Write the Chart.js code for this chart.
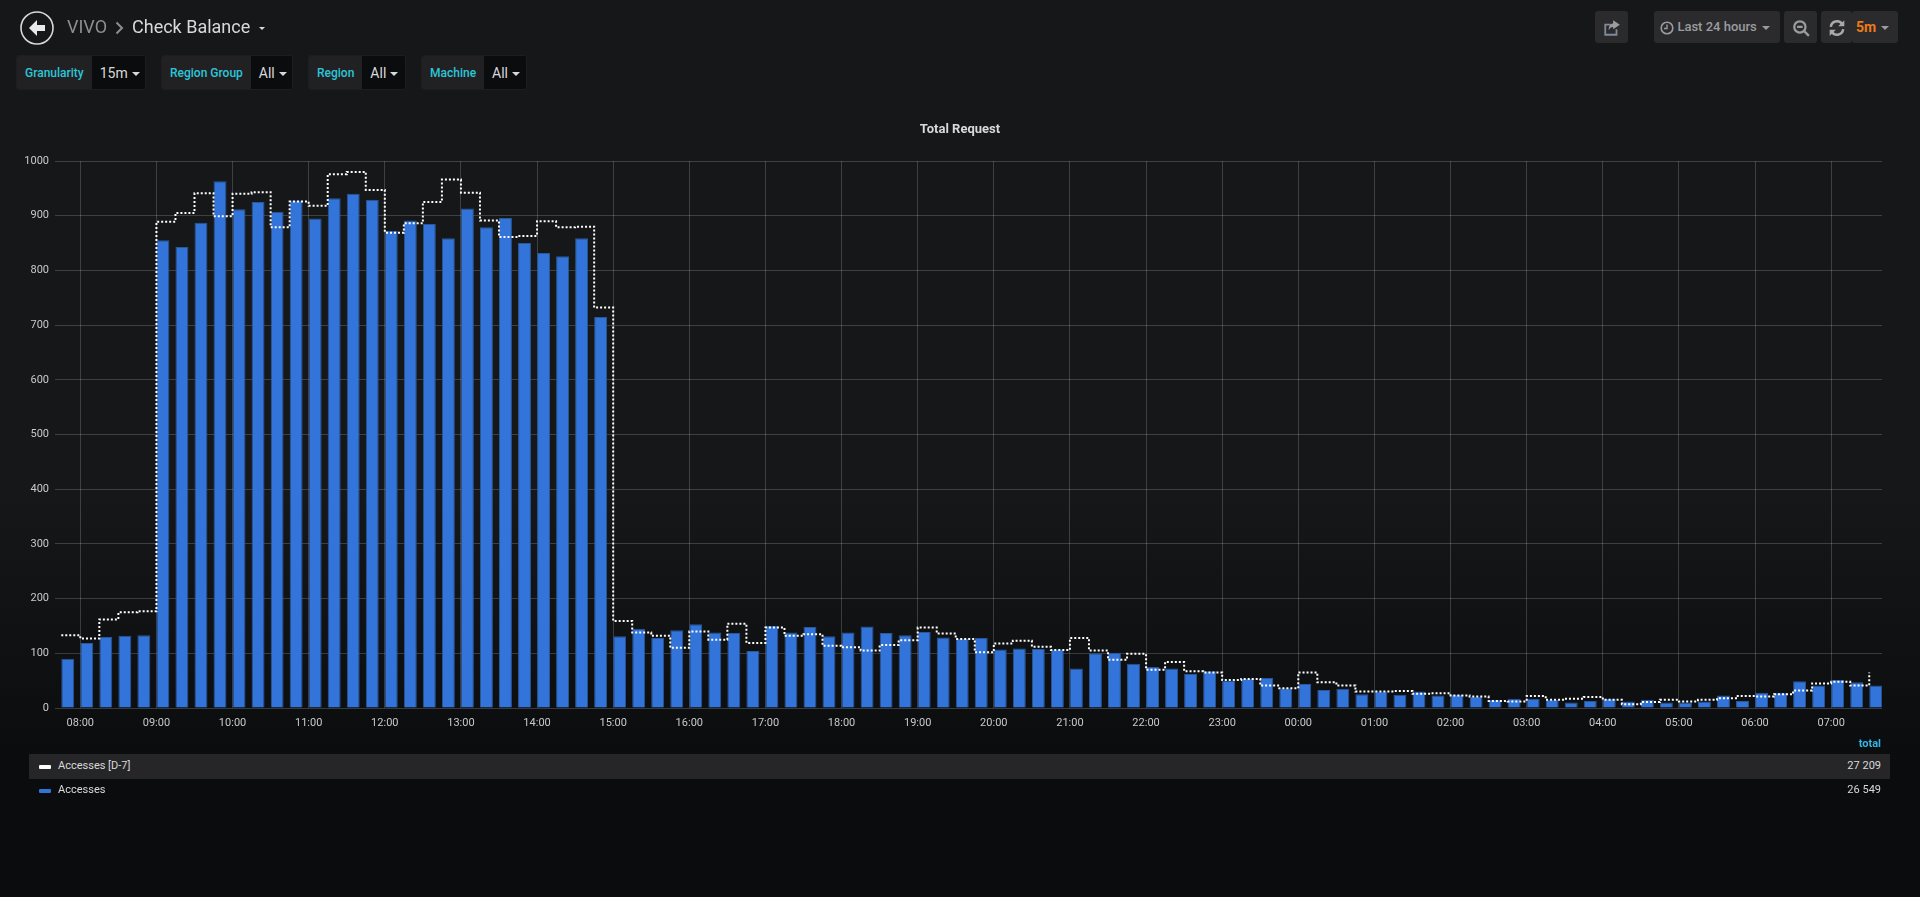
<!DOCTYPE html>
<html>
<head>
<meta charset="utf-8">
<title>Check Balance</title>
<script src="https://cdn.jsdelivr.net/npm/chart.js@4"></script>
<style>
  * { box-sizing: border-box; }
  html, body { margin: 0; width: 1920px; height: 897px; overflow: hidden; }
  body { background: linear-gradient(#161719, #161719 55%, #0b0c0e 85%); font-family: Roboto, sans-serif; color: #d8d9da; position: relative; }
  #chart { position: absolute; left: 0; top: 0; }
  .abs { position: absolute; white-space: nowrap; }
  .crumb { font-size: 18px; top: 16px; line-height: 22px; }
  .caret { display: inline-block; border: 4px solid transparent; border-top-color: currentColor; border-bottom: 0; vertical-align: middle; margin-left: 5px; }
  .var { top: 55px; height: 35px; display: flex; font-size: 12px; border-radius: 3px; overflow: hidden; border: 1px solid #1d1e20; }
  .var b { background: #212124; color: #2cc6d8; font-weight: 500; padding: 0 8px; line-height: 34px; }
  .var span { background: #0b0c0e; font-size: 14px; padding: 0 8px; line-height: 35px; flex: 1; }
  .var .caret { margin-left: 4px; padding: 0; background: none; flex: none; }
  .btn { top: 11px; height: 32px; background: #2b2b2e; border-radius: 3px; color: #9b9c9e; font-size: 13px; font-weight: 500; line-height: 32px; text-align: center; }
  .btn svg { vertical-align: middle; }
  .row { left: 29px; width: 1861px; height: 25px; line-height: 24px; font-size: 11px; color: #d8d9da; }
  .row i { position: absolute; left: 10px; top: 11px; width: 12px; height: 4px; border-radius: 1px; }
  .row em { position: absolute; left: 29px; font-style: normal; }
  .row u { position: absolute; right: 9px; text-decoration: none; }
</style>
</head>
<body>
<canvas id="chart" width="1920" height="897"></canvas>

<svg class="abs" style="left:19px;top:10px" width="36" height="36" viewBox="0 0 36 36">
  <circle cx="18" cy="18" r="16" fill="none" stroke="#d8d9da" stroke-width="1.6"/>
  <path d="M10 18 L18 10 L18 15 L26 15 L26 21 L18 21 L18 26 Z" fill="#e9e9e9"/>
</svg>
<div class="abs crumb" style="left:67px;color:#8e8e8e">VIVO</div>
<svg class="abs" style="left:115px;top:21px" width="9" height="14" viewBox="0 0 9 14"><path d="M1.5 1.5 L7 7 L1.5 12.5" fill="none" stroke="#8e8e8e" stroke-width="2"/></svg>
<div class="abs crumb" style="left:132px">Check Balance<span class="caret" style="margin-left:9px;border-width:3px;border-bottom:0"></span></div>
<div class="abs" style="left:0;width:1920px;top:122px;text-align:center;font-size:13px;font-weight:700;line-height:14px">Total Request</div>

<div class="abs var" style="left:16px;width:130px"><b>Granularity</b><span>15m<span class="caret"></span></span></div>
<div class="abs var" style="left:161px;width:132px"><b>Region Group</b><span>All<span class="caret"></span></span></div>
<div class="abs var" style="left:308px;width:98px"><b>Region</b><span>All<span class="caret"></span></span></div>
<div class="abs var" style="left:421px;width:106px"><b>Machine</b><span>All<span class="caret"></span></span></div>

<div class="abs btn" style="left:1595px;width:33px">
  <svg width="18" height="18" viewBox="0 0 16 16"><path d="M12 9v5H2V5h5" fill="none" stroke="#7f8a9a" stroke-width="1.6"/><path d="M9 1l6 4-6 4V7C7 7 6 8 5 10 5 6 7 4 9 4z" fill="#9b9c9e"/></svg>
</div>
<div class="abs btn" style="left:1654px;width:126px;padding-right:4px">
  <svg width="14" height="14" viewBox="0 0 14 14"><circle cx="7" cy="7" r="5.8" fill="none" stroke="#9b9c9e" stroke-width="1.6"/><path d="M7 3.5V7.5H4" fill="none" stroke="#9b9c9e" stroke-width="1.4"/></svg>
  Last 24 hours<span class="caret"></span>
</div>
<div class="abs btn" style="left:1784px;width:33px">
  <svg width="18" height="18" viewBox="0 0 16 16"><circle cx="7" cy="7" r="5" fill="none" stroke="#9b9c9e" stroke-width="2"/><path d="M4.5 7h5M11 11l4 4" stroke="#9b9c9e" stroke-width="2"/></svg>
</div>
<div class="abs btn" style="left:1821px;width:31px">
  <svg width="18" height="18" viewBox="0 0 16 16"><path d="M2.5 7A5.5 5.5 0 0 1 12.5 4.5M13.5 9A5.5 5.5 0 0 1 3.5 11.5" fill="none" stroke="#a8a9ab" stroke-width="2.2"/><path d="M14.5 1v5.5H9zM1.5 15V9.5H7z" fill="#a8a9ab"/></svg>
</div>
<div class="abs btn" style="left:1852px;width:46px;color:#eb7b18;font-weight:700;font-size:14px;text-align:left;padding-left:4px">5m<span class="caret" style="color:#9b9c9e"></span></div>

<div class="abs" style="right:39px;top:737px;font-size:11px;font-weight:700;color:#33b5e5">total</div>
<div class="abs row" style="top:754px;background:#262628"><i style="background:#fff"></i><em>Accesses [D-7]</em><u>27 209</u></div>
<div class="abs row" style="top:778px"><i style="background:#3274d9"></i><em>Accesses</em><u>26 549</u></div>

<script>
const slots = [
  "07:45","08:00","08:15","08:30","08:45","09:00","09:15","09:30","09:45","10:00","10:15","10:30",
  "10:45","11:00","11:15","11:30","11:45","12:00","12:15","12:30","12:45","13:00","13:15","13:30",
  "13:45","14:00","14:15","14:30","14:45","15:00","15:15","15:30","15:45","16:00","16:15","16:30",
  "16:45","17:00","17:15","17:30","17:45","18:00","18:15","18:30","18:45","19:00","19:15","19:30",
  "19:45","20:00","20:15","20:30","20:45","21:00","21:15","21:30","21:45","22:00","22:15","22:30",
  "22:45","23:00","23:15","23:30","23:45","00:00","00:15","00:30","00:45","01:00","01:15","01:30",
  "01:45","02:00","02:15","02:30","02:45","03:00","03:15","03:30","03:45","04:00","04:15","04:30",
  "04:45","05:00","05:15","05:30","05:45","06:00","06:15","06:30","06:45","07:00","07:15","07:30"
];
const accesses = [
  90,119,130,132,133,855,843,887,963,912,925,907,
  928,895,932,940,929,872,891,885,859,913,879,896,
  850,832,826,859,715,131,145,128,142,153,138,137,
  104,150,138,148,131,138,149,137,133,139,129,126,
  128,107,109,108,107,72,100,101,81,75,72,62,
  67,50,53,55,36,44,33,35,25,30,24,30,
  23,24,20,15,17,17,15,10,13,17,12,15,
  10,10,12,23,13,28,28,49,41,51,47,41
];
const accessesD7 = [
  133,127,162,175,177,889,905,941,899,940,943,879,
  926,918,976,980,947,869,886,925,966,942,891,861,
  863,890,879,880,732,159,138,132,110,140,125,154,
  119,147,132,135,114,111,105,115,124,147,136,126,
  102,118,123,112,106,128,105,88,99,70,84,67,
  65,51,53,41,36,65,47,41,30,30,31,26,
  27,23,21,13,12,22,15,17,20,15,7,11,
  15,12,15,18,22,21,25,32,45,48,41,65
];
const timeTicks = [
  "08:00","09:00","10:00","11:00","12:00","13:00","14:00","15:00","16:00","17:00","18:00","19:00",
  "20:00","21:00","22:00","23:00","00:00","01:00","02:00","03:00","04:00","05:00","06:00","07:00"
];

const BAR_SHARE = 0.68;
const gridColor = "rgba(255,255,255,0.18)";

new Chart(document.getElementById("chart"), {
  type: "bar",
  data: {
    datasets: [
      {
        type: "line",
        label: "Accesses [D-7]",
        data: accessesD7.map((v, i) => ({ x: i, y: v })),
        borderColor: "#ffffff",
        borderWidth: 2,
        borderDash: [2, 2],
        pointRadius: 0,
        stepped: true,
        order: 0
      },
      {
        label: "Accesses",
        // flot draws each bar from its time stamp rightwards
        data: accesses.map((v, i) => ({ x: i + BAR_SHARE / 2, y: v })),
        backgroundColor: "#3274d9",
        borderColor: "#2a5797",
        borderWidth: 1,
        categoryPercentage: BAR_SHARE,
        barPercentage: 1,
        order: 1
      }
    ]
  },
  options: {
    responsive: false,
    animation: false,
    devicePixelRatio: 1,
    layout: { padding: { top: 161, right: 38, bottom: 159 } },
    plugins: {
      legend: { display: false },
      tooltip: { enabled: false }
    },
    scales: {
      x: {
        type: "linear",
        offset: false,
        min: -0.33,
        max: 95.67,
        border: { display: false },
        grid: { color: gridColor, offset: false, drawTicks: false },
        afterBuildTicks: s => { s.ticks = timeTicks.map(t => ({ value: slots.indexOf(t) })); },
        afterFit: s => { s.height = 30; },
        ticks: {
          color: "#c8c9ca",
          font: { family: "Roboto", size: 11 },
          padding: 9,
          autoSkip: false,
          maxRotation: 0,
          callback: v => slots[v]
        }
      },
      y: {
        min: 0,
        max: 1000,
        border: { display: false },
        grid: { color: gridColor, drawTicks: false },
        afterFit: s => { s.width = 55; },
        ticks: {
          stepSize: 100,
          color: "#c8c9ca",
          font: { family: "Roboto", size: 11 },
          padding: 6,
          callback: v => String(v)
        }
      }
    }
  }
});
</script>
</body>
</html>
